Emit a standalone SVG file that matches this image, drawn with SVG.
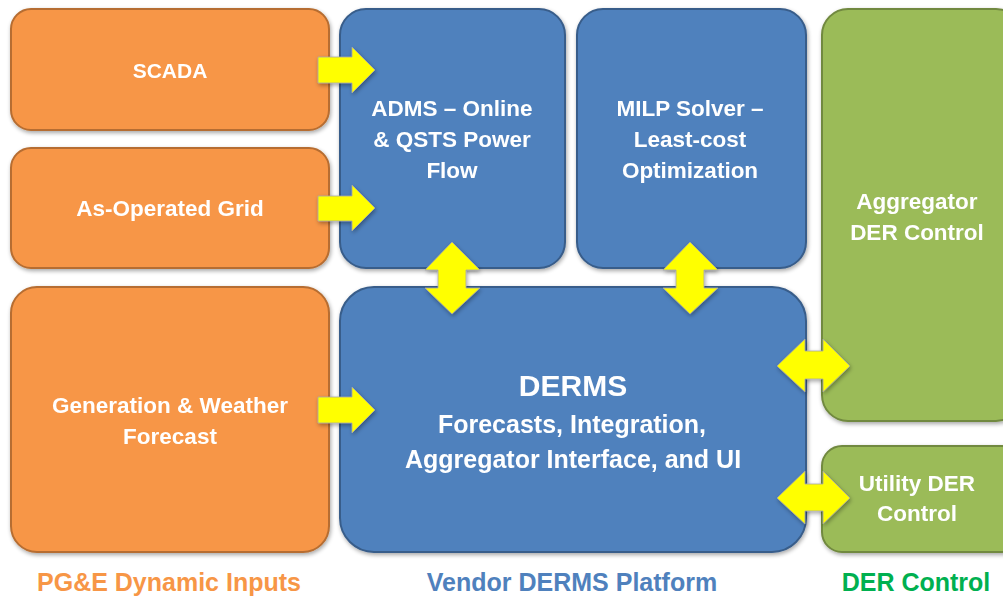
<svg xmlns="http://www.w3.org/2000/svg" width="1003" height="596" viewBox="0 0 1003 596">
  <defs>
    <filter id="shadow" x="-10%" y="-10%" width="130%" height="130%">
      <feGaussianBlur in="SourceAlpha" stdDeviation="2"/>
      <feOffset dx="1" dy="2" result="b"/>
      <feComponentTransfer><feFuncA type="linear" slope="0.35"/></feComponentTransfer>
      <feMerge><feMergeNode/><feMergeNode in="SourceGraphic"/></feMerge>
    </filter>
    <style>
      .orange { fill: #F79646; stroke: #B66D31; stroke-width: 2; }
      .blue { fill: #4F81BD; stroke: #385D8A; stroke-width: 2; }
      .green { fill: #9BBB59; stroke: #71893F; stroke-width: 2; }
      .label { font-family: "Liberation Sans", Arial, sans-serif; font-weight: bold; font-size: 22.5px; fill: #FFFFFF; text-anchor: middle; }
      .big { font-size: 25px; }
      .title { font-size: 30px; }
      .caption { font-family: "Liberation Sans", Arial, sans-serif; font-weight: bold; font-size: 25px; text-anchor: middle; }
      .arrow { fill: #FFFF00; stroke: #A6A6A6; stroke-width: 0.8; }
    </style>
  </defs>

  <!-- input boxes -->
  <g id="scada" filter="url(#shadow)">
    <rect class="orange" x="11" y="9" width="318" height="121" rx="20"/>
    <text class="label" x="170" y="78" style="font-size:21px">SCADA</text>
  </g>
  <g id="as-operated-grid" filter="url(#shadow)">
    <rect class="orange" x="11" y="148" width="318" height="120" rx="20"/>
    <text class="label" x="170" y="216">As-Operated Grid</text>
  </g>
  <g id="generation-weather" filter="url(#shadow)">
    <rect class="orange" x="11" y="287" width="318" height="265" rx="26"/>
    <text class="label" x="170" y="413">Generation &amp; Weather</text>
    <text class="label" x="170" y="444">Forecast</text>
  </g>

  <!-- platform boxes -->
  <g id="adms" filter="url(#shadow)">
    <rect class="blue" x="340" y="9" width="225" height="259" rx="26"/>
    <text class="label" x="452" y="116">ADMS – Online</text>
    <text class="label" x="452" y="147">&amp; QSTS Power</text>
    <text class="label" x="452" y="178">Flow</text>
  </g>
  <g id="milp-solver" filter="url(#shadow)">
    <rect class="blue" x="577" y="9" width="229" height="259" rx="26"/>
    <text class="label" x="690" y="116">MILP Solver –</text>
    <text class="label" x="690" y="147">Least-cost</text>
    <text class="label" x="690" y="178">Optimization</text>
  </g>
  <g id="derms" filter="url(#shadow)">
    <rect class="blue" x="340" y="287" width="466" height="265" rx="34"/>
    <text class="label title" x="573" y="396">DERMS</text>
    <text class="label big" x="572" y="433">Forecasts, Integration,</text>
    <text class="label big" x="573" y="468">Aggregator Interface, and UI</text>
  </g>

  <!-- control boxes -->
  <g id="aggregator-control" filter="url(#shadow)">
    <rect class="green" x="822" y="9" width="200" height="412" rx="26"/>
    <text class="label" x="917" y="209">Aggregator</text>
    <text class="label" x="917" y="240">DER Control</text>
  </g>
  <g id="utility-control" filter="url(#shadow)">
    <rect class="green" x="822" y="446" width="200" height="106" rx="20"/>
    <text class="label" x="917" y="491">Utility DER</text>
    <text class="label" x="917" y="521">Control</text>
  </g>

  <!-- connectors -->
  <g id="connectors" filter="url(#shadow)">
    <polygon class="arrow" points="318,57 352,57 352,47 375,70 352,93 352,83 318,83"/>
    <polygon class="arrow" points="318,196 352,196 352,185 375,208 352,231 352,221 318,221"/>
    <polygon class="arrow" points="318,397 352,397 352,387 375,410 352,433 352,423 318,423"/>
    <polygon class="arrow" points="452,242 480,270 466,270 466,288 480,288 452,314 425,288 438,288 438,270 425,270"/>
    <polygon class="arrow" points="690,242 718,270 704,270 704,288 718,288 690,314 663,288 676,288 676,270 663,270"/>
    <polygon class="arrow" points="777,366 805,339 805,351 823,351 823,339 850,366 823,392 823,379 805,379 805,392"/>
    <polygon class="arrow" points="777,498 805,471 805,484 823,484 823,471 850,498 823,524 823,511 805,511 805,524"/>
  </g>

  <!-- group captions -->
  <text class="caption" x="169" y="591" fill="#F79646">PG&amp;E Dynamic Inputs</text>
  <text class="caption" x="572" y="591" fill="#4F81BD">Vendor DERMS Platform</text>
  <text class="caption" x="916" y="591" fill="#00B050">DER Control</text>
</svg>
